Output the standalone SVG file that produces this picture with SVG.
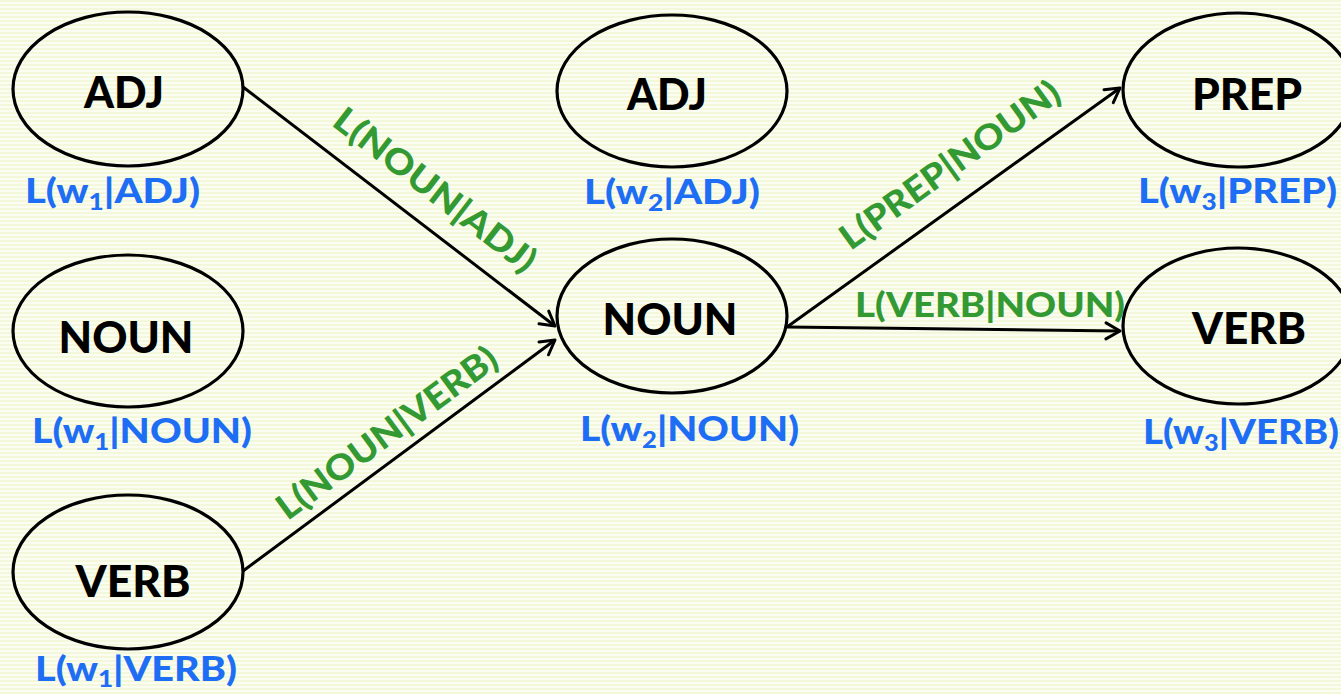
<svg xmlns="http://www.w3.org/2000/svg" width="1341" height="694" viewBox="0 0 1341 694">
<style>
.node ellipse{fill:none;stroke:#000;stroke-width:3.2}
.nl{font-family:Lato,"Open Sans","Liberation Sans",sans-serif;font-weight:900;font-size:44px;fill:#000;text-anchor:middle}
.bl{font-family:Lato,"Open Sans","Liberation Sans",sans-serif;font-weight:900;font-size:35px;fill:#1e6ef5}
.sub{font-size:23px}
.gl{font-family:Lato,"Open Sans","Liberation Sans",sans-serif;font-weight:900;font-size:35px;fill:#339933;text-anchor:middle}
.edge{stroke:#000;stroke-width:3;fill:none;marker-end:url(#arr)}
</style>
<defs>
<pattern id="bg" width="8" height="4" patternUnits="userSpaceOnUse">
<rect width="8" height="4" fill="#fcfdf2"/>
<rect width="8" height="2" fill="#f3f8da"/>
</pattern>
<marker id="arr" viewBox="0 0 20 20" refX="18" refY="10" markerWidth="20" markerHeight="20" markerUnits="userSpaceOnUse" orient="auto">
<path d="M4,2 L18,10 L4,18" fill="none" stroke="#000" stroke-width="3" stroke-linecap="round" stroke-linejoin="round"/>
</marker>
</defs>
<rect width="1341" height="694" fill="url(#bg)"/>

<g id="connectors">
<line class="edge" x1="243" y1="87" x2="555" y2="326"/>
<line class="edge" x1="243" y1="571" x2="555" y2="340"/>
<line class="edge" x1="787" y1="327" x2="1120" y2="88"/>
<line class="edge" x1="787" y1="327" x2="1120" y2="331"/>
<text class="gl" transform="translate(435,190) rotate(37.6)" x="0" y="12" textLength="245" lengthAdjust="spacingAndGlyphs">L(NOUN|ADJ)</text>
<text class="gl" transform="translate(387,433) rotate(-36.4)" x="0" y="12" textLength="265" lengthAdjust="spacingAndGlyphs">L(NOUN|VERB)</text>
<text class="gl" transform="translate(950,165) rotate(-35.7)" x="0" y="12" textLength="262" lengthAdjust="spacingAndGlyphs">L(PREP|NOUN)</text>
<text class="gl" x="990" y="317" textLength="270" lengthAdjust="spacingAndGlyphs">L(VERB|NOUN)</text>
</g>

<g id="adj1" class="node">
<ellipse cx="128" cy="89" rx="115" ry="77"/>
<text class="nl" x="124" y="108" textLength="80" lengthAdjust="spacingAndGlyphs">ADJ</text>
<text class="bl" x="25" y="203" textLength="175" lengthAdjust="spacingAndGlyphs">L(w<tspan class="sub" dy="7">1</tspan><tspan dy="-7">|ADJ)</tspan></text>
</g>
<g id="noun1" class="node">
<ellipse cx="128" cy="331" rx="115" ry="76"/>
<text class="nl" x="126" y="353" textLength="135" lengthAdjust="spacingAndGlyphs">NOUN</text>
<text class="bl" x="32" y="443" textLength="220" lengthAdjust="spacingAndGlyphs">L(w<tspan class="sub" dy="7">1</tspan><tspan dy="-7">|NOUN)</tspan></text>
</g>
<g id="verb1" class="node">
<ellipse cx="128" cy="572" rx="115" ry="77"/>
<text class="nl" x="133" y="597" textLength="115" lengthAdjust="spacingAndGlyphs">VERB</text>
<text class="bl" x="35" y="681" textLength="202" lengthAdjust="spacingAndGlyphs">L(w<tspan class="sub" dy="6">1</tspan><tspan dy="-6">|VERB)</tspan></text>
</g>
<g id="adj2" class="node">
<ellipse cx="672" cy="91" rx="115" ry="76"/>
<text class="nl" x="667" y="110" textLength="80" lengthAdjust="spacingAndGlyphs">ADJ</text>
<text class="bl" x="584" y="204" textLength="176" lengthAdjust="spacingAndGlyphs">L(w<tspan class="sub" dy="7">2</tspan><tspan dy="-7">|ADJ)</tspan></text>
</g>
<g id="noun2" class="node">
<ellipse cx="672" cy="316" rx="115" ry="77"/>
<text class="nl" x="670" y="335" textLength="135" lengthAdjust="spacingAndGlyphs">NOUN</text>
<text class="bl" x="580" y="441" textLength="219" lengthAdjust="spacingAndGlyphs">L(w<tspan class="sub" dy="7">2</tspan><tspan dy="-7">|NOUN)</tspan></text>
</g>
<g id="prep3" class="node">
<ellipse cx="1238" cy="90" rx="115" ry="77"/>
<text class="nl" x="1247" y="110" textLength="110" lengthAdjust="spacingAndGlyphs">PREP</text>
<text class="bl" x="1138" y="203" textLength="199" lengthAdjust="spacingAndGlyphs">L(w<tspan class="sub" dy="7">3</tspan><tspan dy="-7">|PREP)</tspan></text>
</g>
<g id="verb3" class="node">
<ellipse cx="1238" cy="326" rx="115" ry="78"/>
<text class="nl" x="1249" y="344" textLength="114" lengthAdjust="spacingAndGlyphs">VERB</text>
<text class="bl" x="1143" y="444" textLength="196" lengthAdjust="spacingAndGlyphs">L(w<tspan class="sub" dy="7">3</tspan><tspan dy="-7">|VERB)</tspan></text>
</g>
</svg>
